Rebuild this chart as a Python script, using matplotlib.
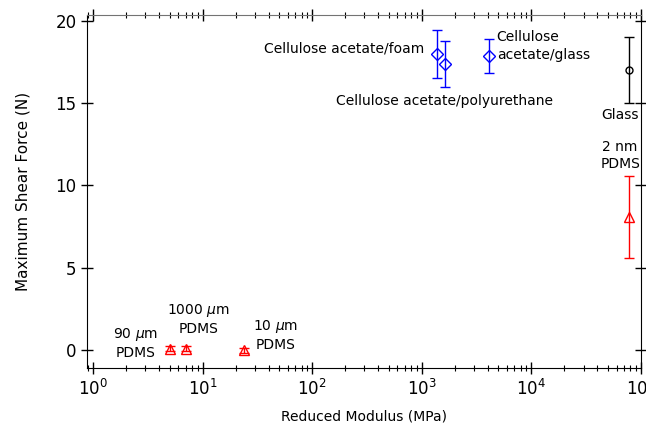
import matplotlib
matplotlib.use("Agg")
import matplotlib.pyplot as plt
from matplotlib.ticker import LogLocator, NullFormatter

# data
pdms_x = [5.0, 7.0, 24.0, 78000]
pdms_y = [0.1, 0.1, 0.0, 8.1]
pdms_err = [0.15, 0.15, 0.15, 2.5]

ca_x = [1385, 1640, 4080]
ca_y = [18.0, 17.35, 17.85]
ca_err = [1.45, 1.4, 1.05]

glass_x = [78000]
glass_y = [17.0]
glass_err = [2.0]

labels = ["Cellulose acetate/foam", "Cellulose\nacetate/glass",
          "Cellulose acetate/polyurethane", "Glass", "2 nm\nPDMS",
          "90 $\\mu$m\nPDMS", "1000 $\\mu$m\nPDMS", "10 $\\mu$m\nPDMS"]
label_x = [1047, 4830, 1630, 64700, 64700, 2.46, 9.24, 46.3]
label_y = [18.3, 18.47, 15.13, 14.28, 11.8, 0.43, 1.91, 0.91]
label_ha = ["right", "left", "center", "center", "center", "center", "center", "center"]

plt.rcParams['font.family'] = ['DejaVu Sans']
fig = plt.figure(figsize=(6.46, 4.24), dpi=100)
ax = fig.add_axes([0.1347, 0.1314, 0.8573, 0.8332])

ax.errorbar(pdms_x, pdms_y, yerr=pdms_err, fmt='^', color='red', mfc='none',
            ms=7, capsize=3.5, elinewidth=1, mew=1)
ax.errorbar(ca_x, ca_y, yerr=ca_err, fmt='D', color='blue', mfc='none',
            ms=6.5, capsize=3.5, elinewidth=1, mew=1)
ax.errorbar(glass_x, glass_y, yerr=glass_err, fmt='o', color='black', mfc='none',
            ms=5, capsize=3.5, elinewidth=1, mew=1)

for t, x, y, ha in zip(labels, label_x, label_y, label_ha):
    ax.text(x, y, t, ha=ha, va='center', fontsize=10, linespacing=1.3)

ax.set_xscale('log')
ax.set_xlim(0.88, 1e5)
ax.set_ylim(-1.1, 20.35)
ax.set_yticks([0, 5, 10, 15, 20])
ax.xaxis.set_major_locator(LogLocator(base=10, numticks=10))
ax.xaxis.set_minor_locator(LogLocator(base=10, subs=range(2, 10), numticks=20))
ax.xaxis.set_minor_formatter(NullFormatter())

ax.tick_params(which='both', direction='inout', top=True, right=True, labelsize=12)
ax.tick_params(which='major', length=8, width=1)
ax.tick_params(which='minor', length=5, width=0.8)
ax.tick_params(axis='y', which='minor', left=False, right=False)
ax.spines['top'].set_color('0.45')

ax.set_xlabel("Reduced Modulus (MPa)", fontsize=10, labelpad=8)
ax.set_ylabel("Maximum Shear Force (N)", fontsize=11, labelpad=18)

fig.savefig("out.png", dpi=100)
